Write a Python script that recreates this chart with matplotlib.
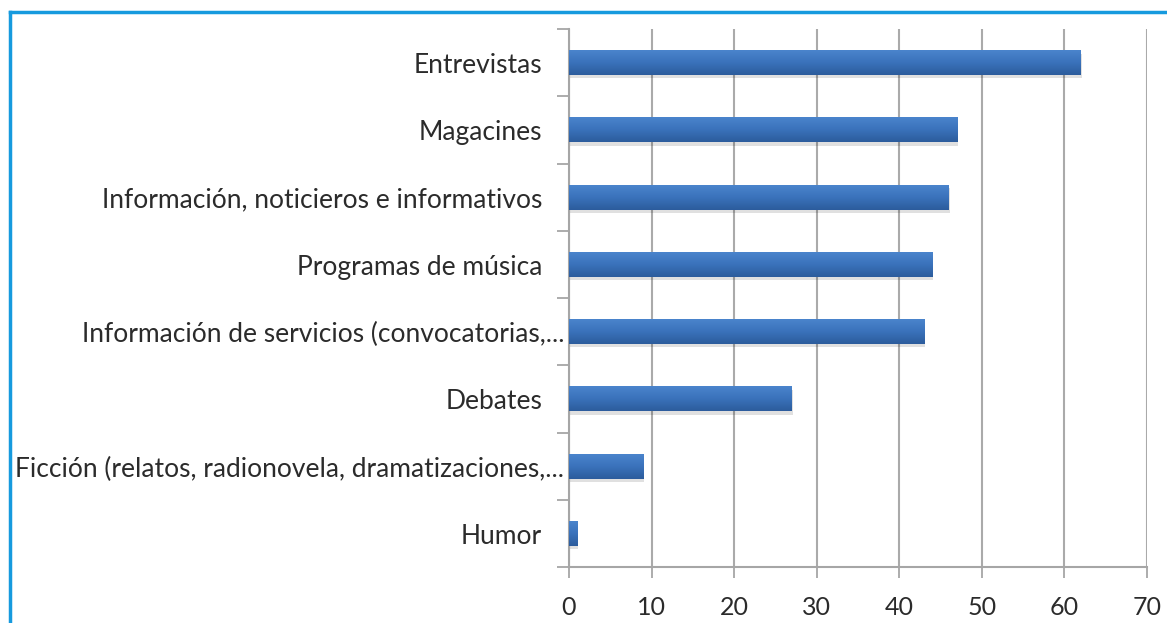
import numpy as np
import matplotlib
matplotlib.use("Agg")
import matplotlib.pyplot as plt
from matplotlib.lines import Line2D
from matplotlib.transforms import ScaledTranslation

categories = [
    "Entrevistas",
    "Magacines",
    "Información, noticieros e informativos",
    "Programas de música",
    "Información de servicios (convocatorias,...",
    "Debates",
    "Ficción (relatos, radionovela, dramatizaciones,...",
    "Humor",
]
values = [62, 47, 46, 44, 43, 27, 9, 1]
x_ticks = [0, 10, 20, 30, 40, 50, 60, 70]

plt.rcParams['font.family'] = ['Lato', 'DejaVu Sans']

fig = plt.figure(figsize=(11.67, 6.23), dpi=100)
ax = fig.add_axes([569/1167, 56/623, (1147-569)/1167, (567-29)/623])

n = len(categories)
ypos = np.arange(n)
bars = ax.barh(ypos, values, height=0.37, color='#3a6db0', zorder=3)

# gradient + shadow on bars
cmap = matplotlib.colors.LinearSegmentedColormap.from_list('g', ['#4a84cc', '#3a72bb', '#2c5c9c'])
grad = np.linspace(0, 1, 64).reshape(-1, 1)
for b in bars:
    x0, y0 = b.get_x(), b.get_y()
    w, h = b.get_width(), b.get_height()
    sh = matplotlib.patches.Rectangle((x0 + 0.12, y0 + 0.05), w, h, color='#000000', alpha=0.12, zorder=2, lw=0)
    ax.add_patch(sh)
    im = ax.imshow(grad, cmap=cmap, aspect='auto', extent=(x0, x0 + w, y0 + h, y0),
                   zorder=4, interpolation='bicubic')
    im.set_clip_path(b)

ax.set_xlim(0, 70)
ax.set_ylim(n - 0.5, -0.5)
ax.set_xticks(x_ticks)
ax.set_xticklabels([str(t) for t in x_ticks])
ax.tick_params(axis='x', length=8, width=1.3, color='#a6a6a6', labelsize=18,
               labelcolor='#2b2b2b', pad=13, direction='out')
ax.set_yticks(np.arange(-0.5, n, 1.0))
ax.set_yticklabels([])
ax.tick_params(axis='y', length=9, width=1.3, color='#a6a6a6')

ax.grid(axis='x', color='#aaaaaa', linewidth=1.5, zorder=0)
for s in ['top', 'right']:
    ax.spines[s].set_visible(False)
for s in ['left', 'bottom']:
    ax.spines[s].set_color('#a6a6a6')
    ax.spines[s].set_linewidth(1.5)

trans = ax.get_yaxis_transform()
for i, lab in enumerate(categories):
    off = -5 if lab.endswith('...') else -27
    ax.text(0, i, lab, transform=trans + ScaledTranslation(off/100, -3/100, fig.dpi_scale_trans),
            ha='right', va='center', fontsize=19, color='#2b2b2b')

# frame border
fig.add_artist(Line2D([10/1167, 10/1167], [0, 1 - 12/623], transform=fig.transFigure,
                      color='#169ade', linewidth=2.5))
fig.add_artist(Line2D([10/1167, 1], [1 - 12/623, 1 - 12/623], transform=fig.transFigure,
                      color='#169ade', linewidth=2.5))

fig.savefig('out.png', dpi=100)
